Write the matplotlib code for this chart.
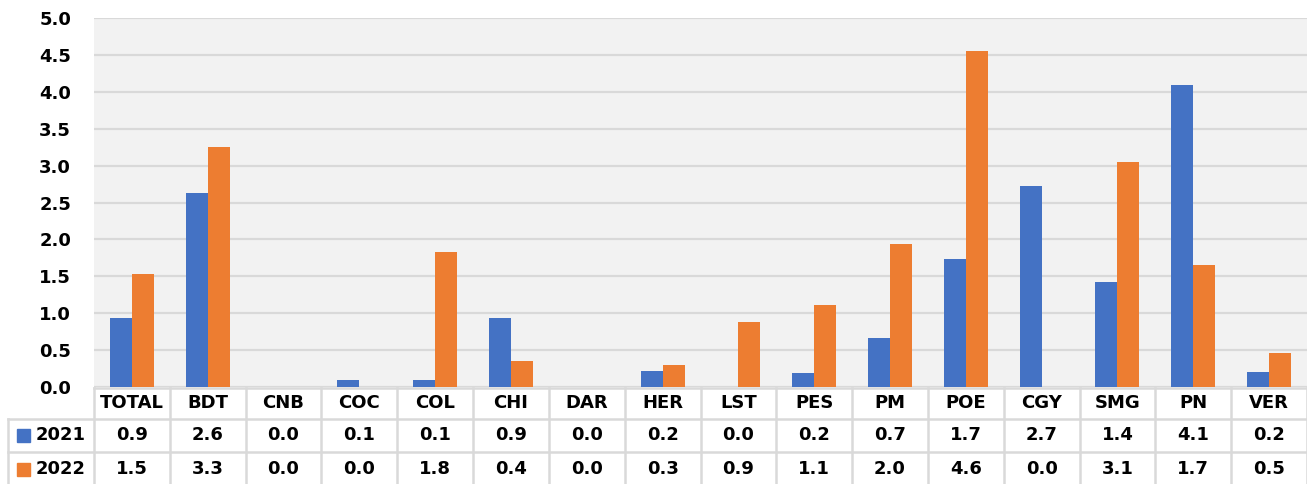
import numpy as np
import matplotlib.pyplot as plt
from matplotlib.lines import Line2D
from matplotlib.patches import Rectangle

categories = ['TOTAL', 'BDT', 'CNB', 'COC', 'COL', 'CHI', 'DAR', 'HER',
              'LST', 'PES', 'PM', 'POE', 'CGY', 'SMG', 'PN', 'VER']
vals_2021 = [0.94, 2.63, 0.0, 0.09, 0.09, 0.94, 0.0, 0.22,
             0.0, 0.19, 0.67, 1.74, 2.72, 1.42, 4.09, 0.20]
vals_2022 = [1.53, 3.25, 0.0, 0.0, 1.83, 0.35, 0.0, 0.30,
             0.88, 1.11, 1.94, 4.55, 0.0, 3.05, 1.65, 0.46]
labels_2021 = ['0.9', '2.6', '0.0', '0.1', '0.1', '0.9', '0.0', '0.2',
               '0.0', '0.2', '0.7', '1.7', '2.7', '1.4', '4.1', '0.2']
labels_2022 = ['1.5', '3.3', '0.0', '0.0', '1.8', '0.4', '0.0', '0.3',
               '0.9', '1.1', '2.0', '4.6', '0.0', '3.1', '1.7', '0.5']
series = [('2021', vals_2021, labels_2021, '#4472C4'),
          ('2022', vals_2022, labels_2022, '#ED7D31')]

W, H = 1307, 484
fig = plt.figure(figsize=(W / 100, H / 100), dpi=100)

# plot area in pixels: x 94..1307, y 18..387
ax = fig.add_axes([94 / W, (H - 387) / H, (1307 - 94) / W, (387 - 18) / H])
ax.set_facecolor('#f2f2f2')

x = np.arange(len(categories))
bw = 0.29
for i, (name, vals, _, col) in enumerate(series):
    ax.bar(x + (i - 0.5) * bw, vals, width=bw, color=col, zorder=3)

fs = 13
ax.set_xlim(-0.5, len(categories) - 0.5)
ax.set_ylim(0, 5.0)
ax.set_yticks(np.arange(0, 5.01, 0.5))
ax.set_yticklabels([f'{v:.1f}' for v in np.arange(0, 5.01, 0.5)],
                   fontsize=fs, fontweight='bold')
ax.tick_params(axis='y', length=0, pad=16.5)
ax.set_xticks([])
ax.yaxis.grid(True, color='#d9d9d9', lw=1.6, zorder=0)
for s in ax.spines.values():
    s.set_visible(False)

# data table below the plot (y in axes fraction)
def py(p):
    return (387 - p) / (387 - 18)

colw = (1307 - 94) / len(categories)

def px(p):
    return (p - 94) / colw - 0.5

trans = ax.get_xaxis_transform()
lab_left = px(8)
rows_y = [py(388), py(419), py(452), py(486)]
lc = '#d9d9d9'
lw = 1.8

for i in range(len(categories) + 1):
    ax.add_line(Line2D([i - 0.5, i - 0.5], [rows_y[0], rows_y[3]], color=lc,
                       lw=lw, transform=trans, clip_on=False))
ax.add_line(Line2D([lab_left, lab_left], [rows_y[1], rows_y[3]], color=lc,
                   lw=lw, transform=trans, clip_on=False))
ax.add_line(Line2D([-0.5, len(categories) - 0.5], [rows_y[0], rows_y[0]],
                   color=lc, lw=lw, transform=trans, clip_on=False))
for r in (1, 2):
    ax.add_line(Line2D([lab_left, len(categories) - 0.5], [rows_y[r], rows_y[r]],
                       color=lc, lw=lw, transform=trans, clip_on=False))

tkw = dict(fontsize=fs, fontweight='bold', ha='center', va='center',
           transform=trans, clip_on=False)
for j, c in enumerate(categories):
    ax.text(j, (rows_y[0] + rows_y[1]) / 2, c, **tkw)
key_h = py(387) - py(400)
for r, (name, vals, labs, col) in enumerate(series):
    yc = (rows_y[r + 1] + rows_y[r + 2]) / 2
    for j, t in enumerate(labs):
        ax.text(j, yc, t, **tkw)
    # legend key square + series name
    ax.add_patch(Rectangle((px(17), yc - key_h / 2), px(30) - px(17), key_h,
                           color=col, transform=trans, clip_on=False))
    ax.text(px(36), yc, name, fontsize=fs, fontweight='bold',
            ha='left', va='center', transform=trans, clip_on=False)

fig.savefig('out.png', dpi=100)
